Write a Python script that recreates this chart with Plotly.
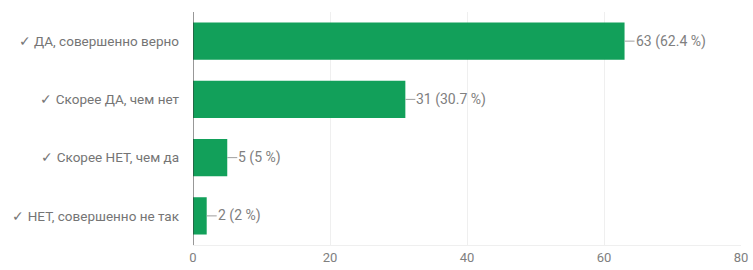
import plotly.graph_objects as go

categories = ["✓ ДА, совершенно верно", "✓ Скорее ДА, чем нет", "✓ Скорее НЕТ, чем да", "✓ НЕТ, совершенно не так"]
counts = [63, 31, 5, 2]
percents = ["62.4 %", "30.7 %", "5 %", "2 %"]
x_ticks = [0, 20, 40, 60, 80]

labels = [f"{c} ({p})" for c, p in zip(counts, percents)]

fig = go.Figure()
fig.add_trace(go.Bar(
    x=counts, y=categories, orientation="h",
    marker=dict(color="#12a05a", line=dict(width=0)),
    width=0.64, hoverinfo="skip",
))

for c, cat, lab in zip(counts, categories, labels):
    fig.add_shape(type="line", xref="x", yref="y", xsizemode="pixel", xanchor=c,
                  x0=0, x1=10, y0=cat, y1=cat, line=dict(color="#9e9e9e", width=1))
    fig.add_annotation(x=c, y=cat, text=lab, showarrow=False, xanchor="left",
                       xshift=9, font=dict(family="Roboto, Arial", size=14, color="#808080"))

fig.update_layout(
    width=753, height=270,
    margin=dict(l=193, r=12, t=12, b=25, autoexpand=False),
    paper_bgcolor="white", plot_bgcolor="white",
    showlegend=False,
    font=dict(family="Roboto, Arial", size=13, color="#808080"),
    xaxis=dict(range=[0, 80], tickvals=x_ticks, showgrid=True, gridcolor="#efefef",
               gridwidth=1, zeroline=False, showline=True, linecolor="#efefef", ticks="",
               automargin=False, tickfont=dict(size=13, color="#808080")),
    yaxis=dict(categoryorder="array", categoryarray=categories[::-1], range=[-0.5, 3.5],
               showgrid=False, zeroline=False, showline=False, ticks="", automargin=False,
               ticklabelstandoff=13, tickfont=dict(size=13.5, color="#757575")),
)
fig.add_shape(type="line", xref="x", yref="paper", x0=0, x1=0, y0=0, y1=1,
              line=dict(color="#333333", width=1))

fig.write_html("out.html", config={"displayModeBar": False},
               post_script="document.body.style.margin='0';")
